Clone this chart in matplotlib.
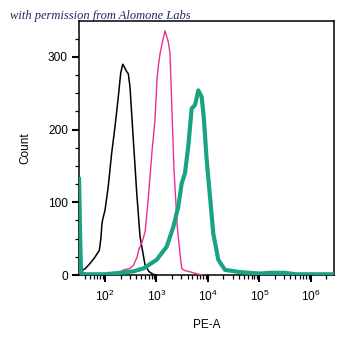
import matplotlib
matplotlib.use("Agg")
import matplotlib.pyplot as plt
import numpy as np
from matplotlib.ticker import LogLocator, LogFormatterSciNotation, MultipleLocator, NullFormatter

plt.rcParams['font.family'] = ['Liberation Sans', 'DejaVu Sans']
plt.rcParams['mathtext.default'] = 'regular'

# Data: log10(PE-A) positions and counts
black_log = [1.495, 1.51, 1.535, 1.55, 1.62, 1.71, 1.80, 1.89, 1.92, 1.94, 1.96, 2.0, 2.06, 2.13,
             2.194, 2.258, 2.305, 2.344, 2.37, 2.42, 2.452, 2.485, 2.55, 2.616, 2.68, 2.777, 2.85, 2.93, 3.0]
black_cnt = [62, 30, 10, 6, 9, 16, 24, 34, 50, 70, 78, 89, 120, 168,
             204, 245, 278, 290, 287, 280, 277, 259, 186, 113, 53, 14, 5, 1, 0]

pink_log = [1.495, 1.52, 1.56, 2.2, 2.29, 2.36, 2.48, 2.55, 2.62, 2.66, 2.72, 2.78, 2.84, 2.91,
            2.97, 3.01, 3.04, 3.07, 3.12, 3.165, 3.229, 3.262, 3.295, 3.34, 3.404, 3.456, 3.489,
            3.55, 3.62, 3.72, 3.82, 3.9]
pink_cnt = [7, 2, 0, 1, 4, 7, 9, 13, 24, 36, 45, 60, 105, 168,
            213, 270, 290, 305, 322, 336, 321, 305, 237, 144, 66, 30, 9,
            6, 5, 3, 1, 0]

green_log = [1.495, 1.515, 1.534, 1.61, 2.0, 2.291, 2.55, 2.744, 3.004, 3.198, 3.326, 3.423, 3.489,
             3.553, 3.617, 3.683, 3.748, 3.812, 3.878, 3.922, 3.975, 4.039, 4.103, 4.2, 4.33,
             4.621, 5.0, 5.2, 5.5, 5.7, 6.0, 6.447]
green_cnt = [135, 60, 3, 1, 1, 3, 5, 9, 21, 39, 66, 94, 126,
             140, 177, 229, 234, 254, 245, 213, 158, 108, 57, 21, 7,
             4, 2, 3, 3, 1, 1, 1]

fig = plt.figure(figsize=(3.55, 3.48), dpi=100)
ax = fig.add_axes([79/355, 1-275/348, (334-79)/355, (275-21)/348])

ax.plot(10**np.array(black_log), black_cnt, color='black', lw=1.1, zorder=3)
ax.plot(10**np.array(pink_log), pink_cnt, color='#e8318f', lw=1.0, zorder=4)
ax.plot(10**np.array(green_log), green_cnt, color='#1aa383', lw=3.0, zorder=5,
        solid_capstyle='butt')

ax.set_xscale('log')
ax.set_xlim(10**1.495, 10**6.447)
ax.set_ylim(0, 349.5)

ax.xaxis.set_major_locator(LogLocator(base=10, numticks=20))
ax.xaxis.set_major_formatter(LogFormatterSciNotation())
ax.xaxis.set_minor_locator(LogLocator(base=10, subs=np.arange(2, 10), numticks=50))
ax.xaxis.set_minor_formatter(NullFormatter())
ax.set_xticks([1e2, 1e3, 1e4, 1e5, 1e6])

ax.yaxis.set_major_locator(MultipleLocator(100))
ax.yaxis.set_minor_locator(MultipleLocator(25))

ax.tick_params(axis='both', which='major', direction='out', length=5, width=1.5,
               labelsize=8.6, colors='black')
ax.tick_params(axis='both', which='minor', direction='out', length=3, width=0.9)
ax.tick_params(axis='y', which='major', pad=3)
ax.tick_params(axis='x', which='major', pad=5)

for s in ax.spines.values():
    s.set_linewidth(1.1)
    s.set_color('black')

ax.set_xlabel('PE-A', fontsize=8.5, labelpad=11)
ax.set_ylabel('Count', fontsize=8.5, labelpad=12)

fig.text(10/355, 1-16/348, 'with permission from Alomone Labs', fontsize=9,
         family='Liberation Serif', style='italic', color='#1c2b5e', va='center', ha='left')

fig.savefig('out.png', dpi=100)
